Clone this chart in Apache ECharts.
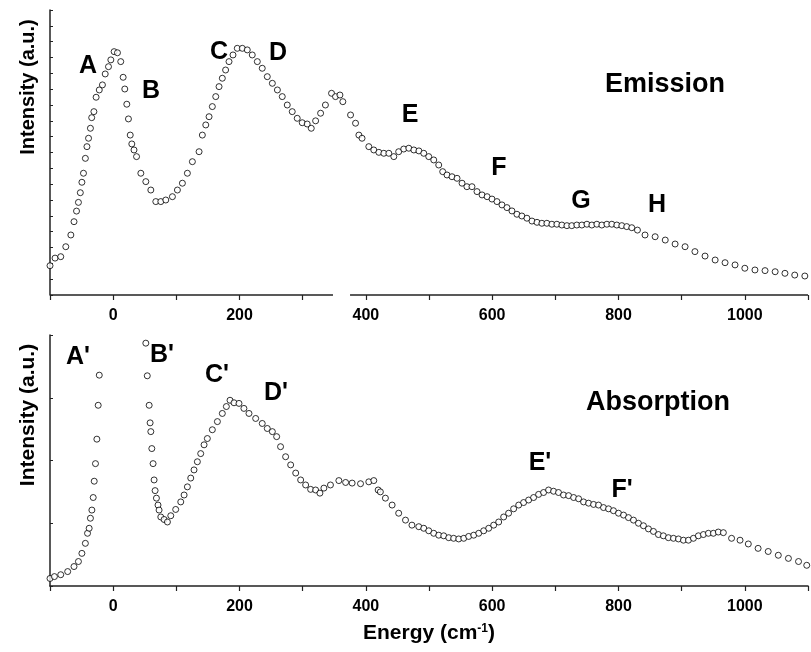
<!DOCTYPE html>
<html>
<head>
<meta charset="utf-8">
<script src="https://cdn.jsdelivr.net/npm/echarts@6/dist/echarts.min.js"></script>
<style>
  html, body { margin: 0; padding: 0; background: #fff; }
  #chart { width: 811px; height: 652px; }
</style>
</head>
<body>
<div id="chart"></div>
<script>
// emission spectrum (upper panel), energy in cm-1 / intensity a.u.
const emissionX = [-100, -92, -83, -75, -67, -62, -58, -55, -52, -49.5, -47, -44, -41.5, -39, -36, -34, -30.5, -27, -22, -17, -12.6, -7.4, -3.7, 1.5, 6.8, 12, 15.8, 18.4, 21.6, 24.2, 27, 29.5, 33, 37,
  43.8, 51.7, 59.6, 67.5, 75.4, 83.3, 93.8, 101.7, 109.6, 117.5, 125.4, 136, 141.2, 146.6, 151.8, 157, 162.4, 167.6, 172.8, 178, 183.4, 189.7, 196.5, 204.5, 212.3, 220.2, 228.2, 236, 244, 252, 260, 267.7, 275.6, 283.5, 291.4, 299.3, 307.2, 313.6, 320.5, 328.4, 336, 345.7, 352, 359, 363.6, 375.8, 383.7, 389,
  394, 404.7, 412.6, 420.6, 428.5, 436.4, 444.3, 452, 460, 468, 476, 484, 491.7, 499.6, 507.5, 515.4, 521.7, 528.5, 536.4, 544.4, 552.3, 560, 568, 576, 584, 592, 599.7, 607.6, 615.5, 623.4, 631.3, 639.2, 647, 655, 663, 671, 678.7, 686.6, 694.5, 702.4, 710.3, 718.3, 726, 734, 742, 750, 757.8, 765.7, 773.6, 781.6, 789.4, 797.3, 805.2, 813, 821,
  830, 842, 858, 874, 889.6, 905.4, 921, 937, 953, 968.7, 984.5, 1000, 1016, 1032, 1048, 1063.5, 1079, 1095];
const emissionY = [1.85, 2.33, 2.42, 3.05, 3.79, 4.63, 5.3, 5.85, 6.46, 7.12, 7.69, 8.63, 9.37, 9.9, 10.53, 11.2, 11.58, 12.49, 12.95, 13.27, 13.96, 14.42, 14.85, 15.37, 15.3, 14.74, 13.75, 13.01, 12.05, 11.12, 10.1, 9.54, 9.16, 8.74,
  7.69, 7.16, 6.63, 5.9, 5.9, 6.0, 6.21, 6.63, 7.06, 7.69, 8.42, 9.05, 10.1, 10.74, 11.26, 11.9, 12.53, 13.16, 13.69, 14.21, 14.74, 15.16, 15.58, 15.58, 15.48, 15.16, 14.74, 14.32, 13.79, 13.37, 12.95, 12.53, 12.0, 11.58, 11.16, 10.88, 10.8, 10.53, 11.0, 11.48, 12.0, 12.74, 12.53, 12.63, 12.21, 11.37, 10.85, 10.1,
  9.9, 9.37, 9.16, 9.01, 8.95, 8.95, 8.74, 9.05, 9.22, 9.27, 9.16, 9.1, 8.95, 8.74, 8.53, 8.21, 7.79, 7.58, 7.47, 7.37, 7.06, 6.84, 6.84, 6.53, 6.32, 6.21, 6.06, 5.9, 5.69, 5.52, 5.31, 5.1, 4.99, 4.85, 4.67, 4.59, 4.53, 4.53, 4.47, 4.47, 4.42, 4.38, 4.38, 4.42, 4.42, 4.47, 4.42, 4.47, 4.42, 4.47, 4.47, 4.42, 4.38, 4.32, 4.25,
  4.1, 3.79, 3.68, 3.47, 3.22, 3.05, 2.74, 2.46, 2.21, 2.04, 1.9, 1.69, 1.58, 1.54, 1.47, 1.37, 1.26, 1.2];

// absorption spectrum (lower panel)
const absorptionX = [-100, -93, -83, -72, -62, -55, -49.5, -44, -40.6, -38, -36, -33.7, -31.6, -30, -28, -25.8, -23.7, -22,
  51.7, 54, 57, 58.5, 59.6, 61.2, 63.2, 64.8, 66.4, 68.5, 71, 72.7, 75.4, 80.6, 85.9, 91.2, 99, 107, 112.3, 117.5, 122.8, 128, 133.3, 138.6, 143.9, 149.1, 157, 165, 172.8, 179.2, 185, 191.3, 199.2, 207, 215, 225.6, 236, 244, 252, 258.8, 265, 273, 281, 289, 296.8, 304.7, 312.6, 320.5, 327.3, 333.6, 344, 357.3, 368, 378.3, 391.6, 404.7, 412.6, 419.5,
  423, 431, 441.6, 452, 462.8, 473, 483.8, 491.7, 499.6, 507.5, 515.4, 523.3, 531.2, 539, 547, 555, 562.8, 570.8, 578.7, 586.6, 594.5, 602.4, 610.3, 618.2, 626, 634, 642, 649.8, 657.7, 665.6, 673.5, 681.4, 689.3, 697.2, 705, 713, 721, 729, 736.8, 744.7, 752.6, 760.5, 768.4, 776.3, 784.2, 792, 800, 808, 815.8, 823.7, 831.6, 839.5, 847.4, 855.3, 863.2, 871, 879, 887, 894.9, 902.8, 910.7, 918.6, 926.5, 934.4, 942.3, 950.2,
  958, 966, 979, 992.4, 1005.5, 1021, 1037, 1053, 1069, 1085, 1098];
const absorptionY = [0.12, 0.15, 0.18, 0.23, 0.31, 0.39, 0.52, 0.68, 0.84, 0.92, 1.08, 1.21, 1.41, 1.67, 1.95, 2.34, 2.88, 3.36,
  3.87, 3.35, 2.88, 2.6, 2.46, 2.19, 1.95, 1.69, 1.52, 1.4, 1.29, 1.21, 1.1, 1.06, 1.02, 1.12, 1.22, 1.34, 1.45, 1.58, 1.72, 1.85, 1.98, 2.11, 2.25, 2.35, 2.49, 2.62, 2.75, 2.86, 2.96, 2.92, 2.91, 2.83, 2.75, 2.67, 2.59, 2.51, 2.46, 2.38, 2.22, 2.06, 1.93, 1.8, 1.69, 1.61, 1.54, 1.53, 1.48, 1.56, 1.61, 1.68, 1.65, 1.64, 1.63, 1.66, 1.68, 1.53,
  1.5, 1.4, 1.29, 1.16, 1.05, 0.97, 0.945, 0.92, 0.88, 0.84, 0.81, 0.8, 0.77, 0.76, 0.75, 0.76, 0.79, 0.81, 0.84, 0.88, 0.92, 0.97, 1.02, 1.1, 1.16, 1.23, 1.29, 1.33, 1.37, 1.41, 1.46, 1.49, 1.53, 1.51, 1.49, 1.45, 1.44, 1.41, 1.39, 1.34, 1.32, 1.3, 1.29, 1.25, 1.23, 1.2, 1.16, 1.13, 1.09, 1.05, 1.0, 0.96, 0.91, 0.87, 0.82, 0.8, 0.77, 0.76, 0.75, 0.73, 0.73, 0.76, 0.8, 0.82, 0.84, 0.84,
  0.86, 0.85, 0.76, 0.73, 0.67, 0.6, 0.55, 0.49, 0.44, 0.39, 0.33];

const tickLabels = [0, 200, 400, 600, 800, 1000];

// upper x axis line is broken between these energies
const breakStart = 348;
const breakEnd = 375;

const chart = echarts.init(document.getElementById('chart'));
const FONT = 'Liberation Sans, Arial, Helvetica, sans-serif';

function zip(xs, ys) {
  return xs.map((x, i) => [x, ys[i]]);
}

function xAxisBase(gridIndex) {
  return {
    type: 'value',
    gridIndex: gridIndex,
    min: -100,
    max: 1100,
    interval: 100,
    splitLine: { show: false },
    axisTick: { show: true, inside: false, length: 5, lineStyle: { color: '#222', width: 1.2 } },
    axisLabel: {
      margin: 13,
      color: '#000',
      fontFamily: FONT,
      fontWeight: 'bold',
      fontSize: 16,
      formatter: v => (tickLabels.indexOf(v) >= 0 ? String(v) : '')
    }
  };
}

function yAxisBase(gridIndex, max) {
  return {
    type: 'value',
    gridIndex: gridIndex,
    min: 0,
    max: max,
    interval: 1,
    splitLine: { show: false },
    axisLine: { show: true, onZero: false, lineStyle: { color: '#222', width: 1.5 } },
    axisTick: { show: true, inside: true, length: 3, lineStyle: { color: '#222', width: 1 } },
    axisLabel: { show: false }
  };
}

const pointStyle = {
  type: 'scatter',
  symbol: 'circle',
  symbolSize: 6,
  itemStyle: { color: '#fff', borderColor: '#000', borderWidth: 1 },
  silent: true
};

function peak(text, x, y, size) {
  return {
    type: 'text',
    x: x,
    y: y,
    style: {
      text: text,
      fill: '#000',
      fontFamily: FONT,
      fontWeight: 'bold',
      fontSize: size || 25,
      align: 'center',
      verticalAlign: 'middle'
    }
  };
}

function yTitle(y, size) {
  return {
    type: 'text',
    x: 28,
    y: y,
    rotation: Math.PI / 2,
    style: {
      text: 'Intensity (a.u.)',
      fill: '#000',
      fontFamily: FONT,
      fontWeight: 'bold',
      fontSize: size,
      align: 'center',
      verticalAlign: 'middle'
    }
  };
}

const axisSegment = {
  type: 'line',
  xAxisIndex: 0,
  yAxisIndex: 0,
  symbol: 'none',
  silent: true,
  clip: false,
  lineStyle: { color: '#222', width: 1.5 }
};

chart.setOption({
  animation: false,
  backgroundColor: '#fff',
  grid: [
    { left: 50, top: 10, width: 760, height: 285 },
    { left: 50, top: 335, width: 760, height: 251 }
  ],
  xAxis: [
    Object.assign(xAxisBase(0), { axisLine: { show: false } }),
    Object.assign(xAxisBase(1), {
      axisLine: { show: true, onZero: false, lineStyle: { color: '#222', width: 1.5 } },
      name: 'Energy (cm{sup|-1})',
      nameLocation: 'middle',
      nameGap: 37,
      nameTextStyle: {
        color: '#000',
        fontFamily: FONT,
        fontWeight: 'bold',
        fontSize: 21,
        rich: {
          sup: { fontFamily: FONT, fontWeight: 'bold', fontSize: 12, verticalAlign: 'top', color: '#000' }
        }
      }
    })
  ],
  yAxis: [yAxisBase(0, 18), yAxisBase(1, 4)],
  series: [
    Object.assign({}, axisSegment, { data: [[-100, 0], [breakStart, 0]] }),
    Object.assign({}, axisSegment, { data: [[breakEnd, 0], [1100, 0]] }),
    Object.assign({}, pointStyle, { xAxisIndex: 0, yAxisIndex: 0, data: zip(emissionX, emissionY) }),
    Object.assign({}, pointStyle, { xAxisIndex: 1, yAxisIndex: 1, data: zip(absorptionX, absorptionY) })
  ],
  graphic: [
    yTitle(87, 20),
    yTitle(415, 21),
    peak('A', 88, 66),
    peak('B', 151, 91),
    peak('C', 219, 52),
    peak('D', 278, 53),
    peak('E', 410, 115),
    peak('F', 499, 168),
    peak('G', 581, 201),
    peak('H', 657, 205),
    peak('Emission', 665, 85, 27),
    peak("A'", 78, 357),
    peak("B'", 162, 355),
    peak("C'", 217, 375),
    peak("D'", 276, 393),
    peak("E'", 540, 463),
    peak("F'", 622, 490),
    peak('Absorption', 658, 403, 27)
  ]
});

window.addEventListener('resize', () => chart.resize());
</script>
</body>
</html>
